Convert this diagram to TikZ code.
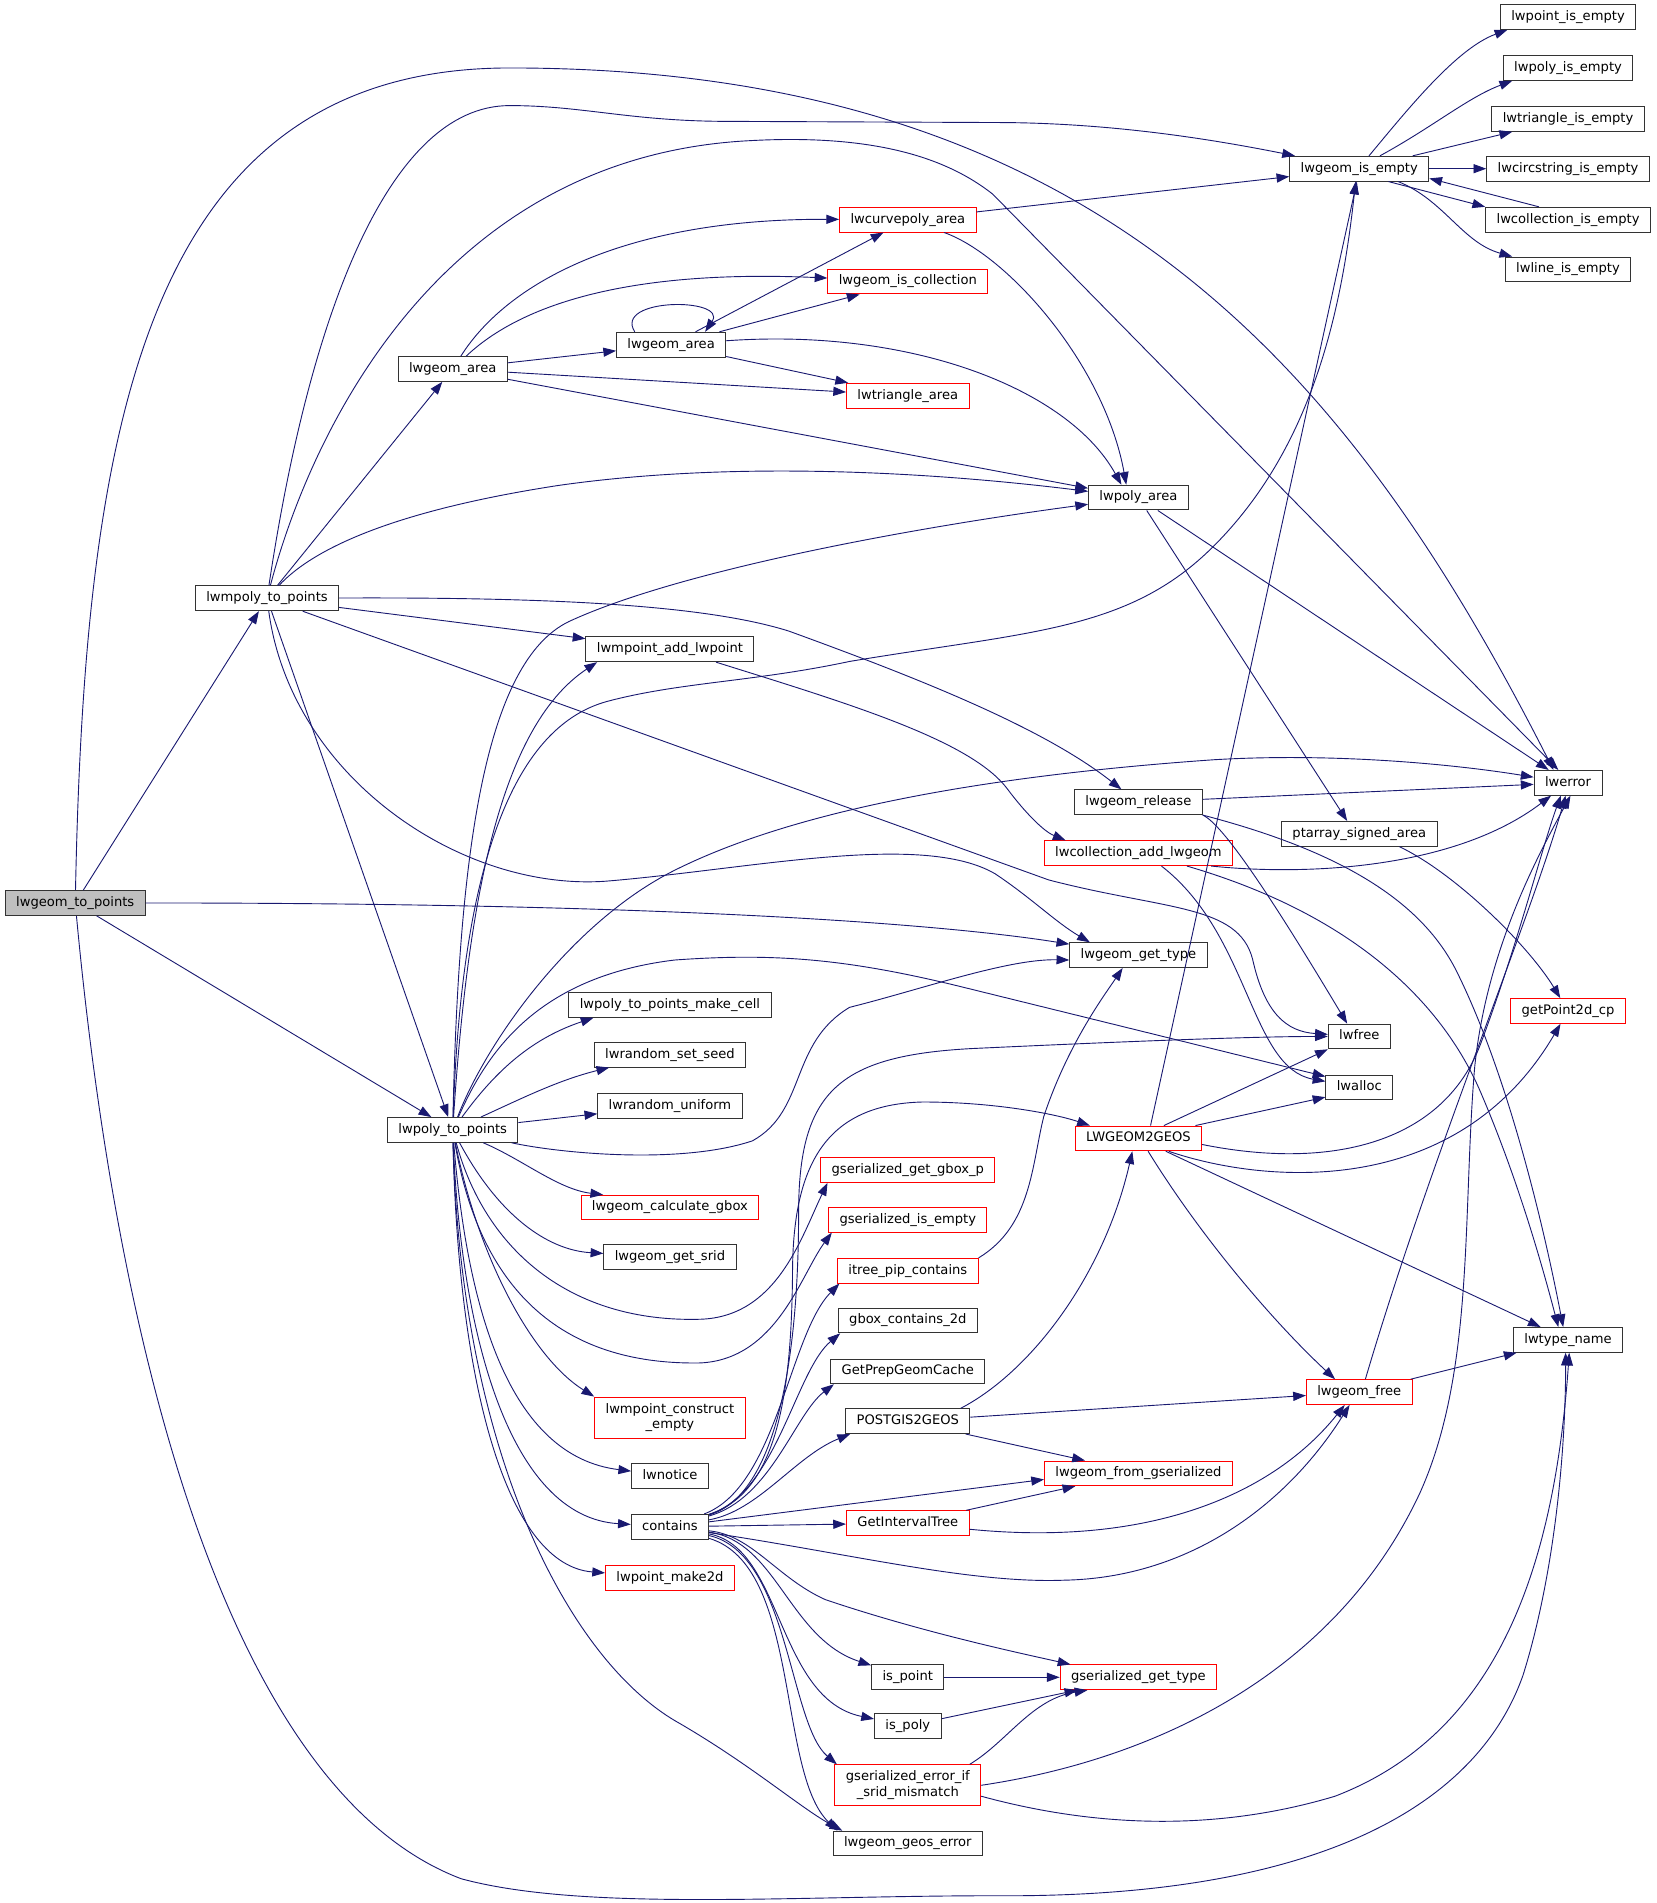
\documentclass[tikz,border=0pt]{standalone}
\usepackage{fontspec}
\newfontfamily\fnfont{DejaVu Sans}
\usetikzlibrary{arrows.meta}
\definecolor{edgeblue}{HTML}{191970}
\definecolor{boxred}{HTML}{FF0000}
\definecolor{boxline}{HTML}{333333}
\definecolor{rootgray}{HTML}{BFBFBF}

\begin{document}
\begin{tikzpicture}[x=1pt,y=-1pt,
    fnbox/.style={draw=boxline, line width=0.8pt, rectangle, inner xsep=9pt,
      inner ysep=4.8pt, text height=8.2pt, text depth=2.6pt,
      font=\fnfont\fontsize{10.8}{13}\selectfont},
    fnroot/.style={fnbox, fill=rootgray},
    fnred/.style={fnbox, draw=boxred},
    fnredtwo/.style={draw=boxred, line width=0.8pt, rectangle, inner xsep=9pt,
      inner ysep=5pt, align=center, font=\fnfont\fontsize{10.8}{13}\selectfont},
    call/.style={draw=edgeblue, line width=0.75pt, -{Triangle[length=10.5pt,width=7.5pt]}}]

    \useasboundingbox (0,0) rectangle (1365,1568);

    \node[fnroot] (geomToPoints) at (62,744) {lwgeom\_to\_points};
    \node[fnbox] (mpolyToPoints) at (220,493) {lwmpoly\_to\_points};
    \node[fnbox] (polyToPoints) at (373,931) {lwpoly\_to\_points};
    \node[fnbox] (geomArea) at (373,304) {lwgeom\_area};
    \node[fnbox] (geomAreaB) at (553,284) {lwgeom\_area};
    \node[fnred] (curvepolyArea) at (748,181) {lwcurvepoly\_area};
    \node[fnred] (isCollection) at (748,232) {lwgeom\_is\_collection};
    \node[fnred] (triangleArea) at (748,326) {lwtriangle\_area};
    \node[fnbox] (polyArea) at (938,410) {lwpoly\_area};
    \node[fnbox] (geomIsEmpty) at (1120,139) {lwgeom\_is\_empty};
    \node[fnbox] (pointIsEmpty) at (1292,14) {lwpoint\_is\_empty};
    \node[fnbox] (polyIsEmpty) at (1292,56) {lwpoly\_is\_empty};
    \node[fnbox] (triangleIsEmpty) at (1292,98) {lwtriangle\_is\_empty};
    \node[fnbox] (circstringIsEmpty) at (1292,139) {lwcircstring\_is\_empty};
    \node[fnbox] (collectionIsEmpty) at (1292,181) {lwcollection\_is\_empty};
    \node[fnbox] (lineIsEmpty) at (1292,222) {lwline\_is\_empty};
    \node[fnbox] (lwerror) at (1292,645) {lwerror};
    \node[fnbox] (mpointAddPoint) at (552,535) {lwmpoint\_add\_lwpoint};
    \node[fnbox] (geomRelease) at (938,661) {lwgeom\_release};
    \node[fnred] (collectionAddGeom) at (938,703) {lwcollection\_add\_lwgeom};
    \node[fnbox] (signedArea) at (1120,687) {ptarray\_signed\_area};
    \node[fnbox] (geomGetType) at (938,787) {lwgeom\_get\_type};
    \node[fnred] (getPoint) at (1292,833) {getPoint2d\_cp};
    \node[fnbox] (lwfree) at (1120,854) {lwfree};
    \node[fnbox] (lwalloc) at (1120,896) {lwalloc};
    \node[fnred] (toGEOS) at (938,938) {LWGEOM2GEOS};
    \node[fnbox] (typeName) at (1292,1104) {lwtype\_name};
    \node[fnred] (geomFree) at (1120,1147) {lwgeom\_free};
    \node[fnbox] (makeCell) at (552,828) {lwpoly\_to\_points\_make\_cell};
    \node[fnbox] (setSeed) at (552,869) {lwrandom\_set\_seed};
    \node[fnbox] (randUniform) at (552,911) {lwrandom\_uniform};
    \node[fnred] (calcGbox) at (552,995) {lwgeom\_calculate\_gbox};
    \node[fnbox] (getSrid) at (552,1036) {lwgeom\_get\_srid};
    \node[fnredtwo] (mpointEmpty) at (552,1168) {lwmpoint\_construct\\\_empty};
    \node[fnbox] (lwnotice) at (552,1216) {lwnotice};
    \node[fnbox] (contains) at (552,1258) {contains};
    \node[fnred] (pointMake) at (552,1300) {lwpoint\_make2d};
    \node[fnred] (getGboxP) at (748,964) {gserialized\_get\_gbox\_p};
    \node[fnred] (gserIsEmpty) at (748,1005) {gserialized\_is\_empty};
    \node[fnred] (pipContains) at (748,1047) {itree\_pip\_contains};
    \node[fnbox] (gboxContains) at (748,1088) {gbox\_contains\_2d};
    \node[fnbox] (prepCache) at (748,1130) {GetPrepGeomCache};
    \node[fnbox] (fromPostgis) at (748,1171) {POSTGIS2GEOS};
    \node[fnred] (intervalTree) at (748,1255) {GetIntervalTree};
    \node[fnred] (fromGser) at (938,1214) {lwgeom\_from\_gserialized};
    \node[fnbox] (isPoint) at (748,1382) {is\_point};
    \node[fnred] (gserGetType) at (938,1382) {gserialized\_get\_type};
    \node[fnbox] (isPoly) at (748,1422) {is\_poly};
    \node[fnredtwo] (sridMismatch) at (748,1471) {gserialized\_error\_if\\\_srid\_mismatch};
    \node[fnbox] (geosError) at (748,1519) {lwgeom\_geos\_error};

    \draw[call] (geomToPoints) .. controls (70,350) and (120,56) .. (420,56)
      .. controls (900,56) and (1110,300) .. ([xshift=-12pt]lwerror.north);
    \draw[call] (geomToPoints) -- (mpolyToPoints);
    \draw[call] (geomToPoints) .. controls (600,744) and (800,765) .. (geomGetType);
    \draw[call] (geomToPoints) -- (polyToPoints);
    \draw[call] (geomToPoints) .. controls (100,1150) and (200,1480) .. (380,1548)
      .. controls (480,1575) and (650,1562) .. (820,1562)
      .. controls (1100,1564) and (1220,1480) .. (1255,1380)
      .. controls (1280,1300) and (1290,1200) .. ([xshift=-2pt]typeName.south);

    \draw[call] (mpolyToPoints) .. controls (255,260) and (320,87) .. (420,87)
      .. controls (480,87) and (520,100) .. (600,100) -- (830,101)
      .. controls (920,102) and (1000,115) .. (geomIsEmpty);
    \draw[call] (mpolyToPoints) .. controls (255,360) and (360,130) .. (616,116)
      .. controls (720,110) and (780,130) .. (818,160) -- ([xshift=-8pt]lwerror.north);
    \draw[call] (mpolyToPoints) -- (geomArea);
    \draw[call] (mpolyToPoints) .. controls (260,450) and (330,420) .. (460,400)
      .. controls (600,380) and (760,388) .. (polyArea);
    \draw[call] (mpolyToPoints) -- (polyToPoints);
    \draw[call] (mpolyToPoints) -- (mpointAddPoint);
    \draw[call] (mpolyToPoints) .. controls (450,492) and (580,498) .. (650,520)
      .. controls (760,560) and (860,600) .. ([xshift=-14pt]geomRelease.north);
    \draw[call] (mpolyToPoints) -- (864,725) .. controls (960,750) and (1020,745) .. (1032,790)
      .. controls (1042,835) and (1060,850) .. (lwfree);
    \draw[call] (mpolyToPoints) .. controls (240,640) and (380,735) .. (500,726)
      .. controls (620,716) and (760,685) .. (820,720)
      .. controls (850,740) and (870,760) .. ([xshift=-40pt]geomGetType.north);

    \draw[call] (polyToPoints) .. controls (385,750) and (410,600) .. ([xshift=-60pt]mpointAddPoint.south);
    \draw[call] (polyToPoints) .. controls (378,700) and (400,545) .. (469,512)
      .. controls (560,470) and (750,435) .. (polyArea);
    \draw[call] (polyToPoints) .. controls (380,720) and (420,600) .. (500,578)
      .. controls (560,562) and (620,562) .. (700,545)
      .. controls (850,520) and (930,520) .. (1000,450)
      .. controls (1080,370) and (1105,260) .. ([xshift=-3pt]geomIsEmpty.south);
    \draw[call] (polyToPoints) .. controls (400,860) and (470,760) .. (556,717)
      .. controls (650,670) and (800,640) .. (1000,626)
      .. controls (1100,620) and (1200,630) .. (lwerror);
    \draw[call] (polyToPoints) .. controls (400,870) and (440,805) .. (556,791)
      .. controls (640,785) and (700,790) .. (800,815) -- ([yshift=9pt]lwalloc.west);
    \draw[call] (polyToPoints) .. controls (460,950) and (560,960) .. (620,940)
      .. controls (665,915) and (650,860) .. (700,830)
      .. controls (760,815) and (830,790) .. ([yshift=-4pt]geomGetType.west);
    \draw[call] (polyToPoints) .. controls (410,880) and (440,855) .. ([xshift=-63pt]makeCell.south);
    \draw[call] (polyToPoints) .. controls (430,905) and (460,890) .. ([xshift=-50pt]setSeed.south);
    \draw[call] (polyToPoints) -- (randUniform);
    \draw[call] (polyToPoints) .. controls (430,955) and (460,980) .. ([xshift=-55pt]calcGbox.north);
    \draw[call] (polyToPoints) .. controls (410,1000) and (450,1030) .. (getSrid);
    \draw[call] (polyToPoints) .. controls (395,1040) and (440,1120) .. (mpointEmpty.north west);
    \draw[call] (polyToPoints) .. controls (385,1080) and (420,1200) .. (lwnotice);
    \draw[call] (polyToPoints) .. controls (380,1100) and (420,1250) .. (contains);
    \draw[call] (polyToPoints) .. controls (378,1150) and (420,1290) .. ([yshift=4pt]pointMake.west);
    \draw[call] (polyToPoints) .. controls (380,1200) and (470,1370) .. (560,1420)
      .. controls (620,1455) and (660,1490) .. ([xshift=8pt]geosError.north west);
    \draw[call] (polyToPoints) .. controls (400,1030) and (470,1090) .. (577,1087)
      .. controls (640,1085) and (660,1020) .. ([xshift=6pt]getGboxP.south west);
    \draw[call] (polyToPoints) .. controls (395,1060) and (460,1125) .. (577,1123)
      .. controls (640,1120) and (660,1050) .. ([xshift=3pt]gserIsEmpty.south west);

    \draw[call] (geomArea) .. controls (420,230) and (520,180) .. (curvepolyArea);
    \draw[call] (geomArea) .. controls (430,250) and (520,222) .. (isCollection);
    \draw[call] (geomArea) -- (geomAreaB);
    \draw[call] (geomArea) -- (triangleArea);
    \draw[call] (geomArea) -- (polyArea);
    \draw[call] ([xshift=-30pt]geomAreaB.north) .. controls (505,245) and (600,245)
      .. ([xshift=28pt]geomAreaB.north);
    \draw[call] (geomAreaB) -- (curvepolyArea);
    \draw[call] (geomAreaB) -- (isCollection);
    \draw[call] (geomAreaB) -- (triangleArea);
    \draw[call] (geomAreaB) .. controls (750,270) and (880,320) .. ([xshift=-14pt]polyArea.north);
    \draw[call] (curvepolyArea) -- (geomIsEmpty);
    \draw[call] (curvepolyArea) .. controls (830,210) and (910,300) .. ([xshift=-10pt]polyArea.north);

    \draw[call] ([xshift=8pt]geomIsEmpty.north) .. controls (1160,90) and (1200,40)
      .. ([xshift=-50pt]pointIsEmpty.south);
    \draw[call] ([xshift=17pt]geomIsEmpty.north) .. controls (1180,105) and (1210,80)
      .. ([xshift=-46pt]polyIsEmpty.south);
    \draw[call] ([xshift=44pt]geomIsEmpty.north) -- ([xshift=-46pt]triangleIsEmpty.south);
    \draw[call] (geomIsEmpty) -- (circstringIsEmpty);
    \draw[call] ([xshift=24pt]geomIsEmpty.south) -- (collectionIsEmpty.north west);
    \draw[call] ([xshift=-24pt]collectionIsEmpty.north) -- ([yshift=-8pt]geomIsEmpty.east);
    \draw[call] ([xshift=32pt]geomIsEmpty.south) .. controls (1190,165) and (1205,200)
      .. ([xshift=-46pt]lineIsEmpty.north);

    \draw[call] (polyArea) -- (lwerror);
    \draw[call] (polyArea) -- ([xshift=-10pt]signedArea.north);
    \draw[call] ([xshift=33pt]signedArea.south) .. controls (1200,720) and (1260,780) .. (getPoint);

    \draw[call] (geomRelease) -- (lwerror);
    \draw[call] (geomRelease.south east) .. controls (1010,680) and (1060,760) .. ([xshift=-10pt]lwfree.north);
    \draw[call] (geomRelease.south east) .. controls (1100,700) and (1170,740) .. (1200,800)
      .. controls (1240,880) and (1270,1000) .. ([xshift=-4pt]typeName.north);

    \draw[call] ([xshift=60pt]collectionAddGeom.south) .. controls (1080,722) and (1200,715)
      .. ([xshift=-14pt]lwerror.south);
    \draw[call] ([xshift=19pt]collectionAddGeom.south) .. controls (1030,770) and (1030,880)
      .. ([yshift=5pt]lwalloc.west);
    \draw[call] ([xshift=40pt]collectionAddGeom.south) .. controls (1120,755) and (1190,830) .. (1220,900)
      .. controls (1250,970) and (1270,1040) .. ([xshift=-8pt]typeName.north);
    \draw[call] ([xshift=38pt]mpointAddPoint.south) .. controls (700,580) and (800,610) .. (830,650)
      .. controls (845,670) and (860,685) .. ([xshift=-60pt]collectionAddGeom.north);

    \draw[call] ([xshift=10pt]toGEOS.north) -- ([xshift=-2pt]geomIsEmpty.south);
    \draw[call] ([xshift=21pt]toGEOS.north) -- (lwfree.south west);
    \draw[call] ([xshift=47pt]toGEOS.north) -- ([yshift=-8pt]lwalloc.west);
    \draw[call] ([yshift=-5pt]toGEOS.east) .. controls (1100,965) and (1190,940) .. (1220,860)
      .. controls (1250,780) and (1270,700) .. ([xshift=-6pt]lwerror.south);
    \draw[call] ([xshift=25pt]toGEOS.south) .. controls (1040,975) and (1200,990) .. (getPoint);
    \draw[call] (toGEOS) -- (typeName);
    \draw[call] ([xshift=8pt]toGEOS.south) .. controls (990,1020) and (1050,1090)
      .. ([xshift=-20pt]geomFree.north);

    \draw[call] ([xshift=5pt]geomFree.north) .. controls (1180,950) and (1260,760)
      .. ([xshift=-2pt]lwerror.south);
    \draw[call] (geomFree) -- (typeName);

    \draw[call] ([xshift=-8pt]fromPostgis.north east) .. controls (850,1130) and (910,1050)
      .. ([xshift=-5pt]toGEOS.south);
    \draw[call] (fromPostgis) -- (geomFree);
    \draw[call] (fromPostgis) -- ([xshift=-44pt]fromGser.north);
    \draw[call] (intervalTree) -- ([xshift=-52pt]fromGser.south);
    \draw[call] (intervalTree) .. controls (950,1275) and (1050,1230) .. ([xshift=-12pt]geomFree.south);
    \draw[call] (pipContains.north east) .. controls (850,1010) and (850,960) .. (860,920)
      .. controls (880,860) and (910,820) .. ([xshift=-13pt]geomGetType.south);

    \draw[call] (contains) .. controls (640,1230) and (652,1150) .. (653,1050)
      .. controls (653,960) and (680,910) .. (760,908)
      .. controls (820,908) and (870,918) .. ([xshift=-40pt]toGEOS.north);
    \draw[call] (contains) .. controls (645,1230) and (658,1100) .. (658,1000)
      .. controls (658,900) and (690,870) .. (800,864)
      .. controls (950,857) and (1040,854) .. (lwfree);
    \draw[call] (contains) .. controls (640,1225) and (650,1100) .. ([xshift=2pt]pipContains.south west);
    \draw[call] (contains) .. controls (640,1230) and (655,1130) .. ([xshift=2pt]gboxContains.south west);
    \draw[call] (contains) .. controls (635,1235) and (655,1165) .. ([xshift=3pt]prepCache.south west);
    \draw[call] (contains) .. controls (625,1245) and (655,1200) .. ([xshift=4pt]fromPostgis.south west);
    \draw[call] (contains) -- ([yshift=-5pt]fromGser.west);
    \draw[call] (contains) -- (intervalTree);
    \draw[call] (contains) .. controls (700,1280) and (800,1305) .. (877,1302)
      .. controls (980,1300) and (1060,1240) .. ([xshift=-8pt]geomFree.south);
    \draw[call] (contains) .. controls (620,1265) and (640,1300) .. (680,1318)
      .. controls (760,1345) and (840,1362) .. ([xshift=-56pt]gserGetType.north);
    \draw[call] (contains) .. controls (640,1270) and (650,1350) .. (isPoint);
    \draw[call] (contains) .. controls (645,1275) and (640,1400) .. (isPoly);
    \draw[call] (contains) .. controls (650,1280) and (650,1420) .. ([xshift=2pt]sridMismatch.north west);
    \draw[call] (contains) .. controls (660,1290) and (640,1460) .. ([xshift=4pt]geosError.north west);

    \draw[call] (isPoint) -- (gserGetType);
    \draw[call] (isPoly) -- (gserGetType);
    \draw[call] ([xshift=51pt]sridMismatch.north) .. controls (830,1435) and (850,1400)
      .. ([xshift=-42pt]gserGetType.south);
    \draw[call] (sridMismatch.east) .. controls (950,1450) and (1100,1380) .. (1170,1230)
      .. controls (1215,1130) and (1205,1000) .. (1215,880)
      .. controls (1225,780) and (1270,700) .. ([xshift=2pt]lwerror.south);
    \draw[call] ([yshift=-9pt]sridMismatch.east) .. controls (900,1505) and (1000,1510) .. (1100,1480)
      .. controls (1230,1430) and (1280,1300) .. ([xshift=1pt]typeName.south);

\end{tikzpicture}
\end{document}
